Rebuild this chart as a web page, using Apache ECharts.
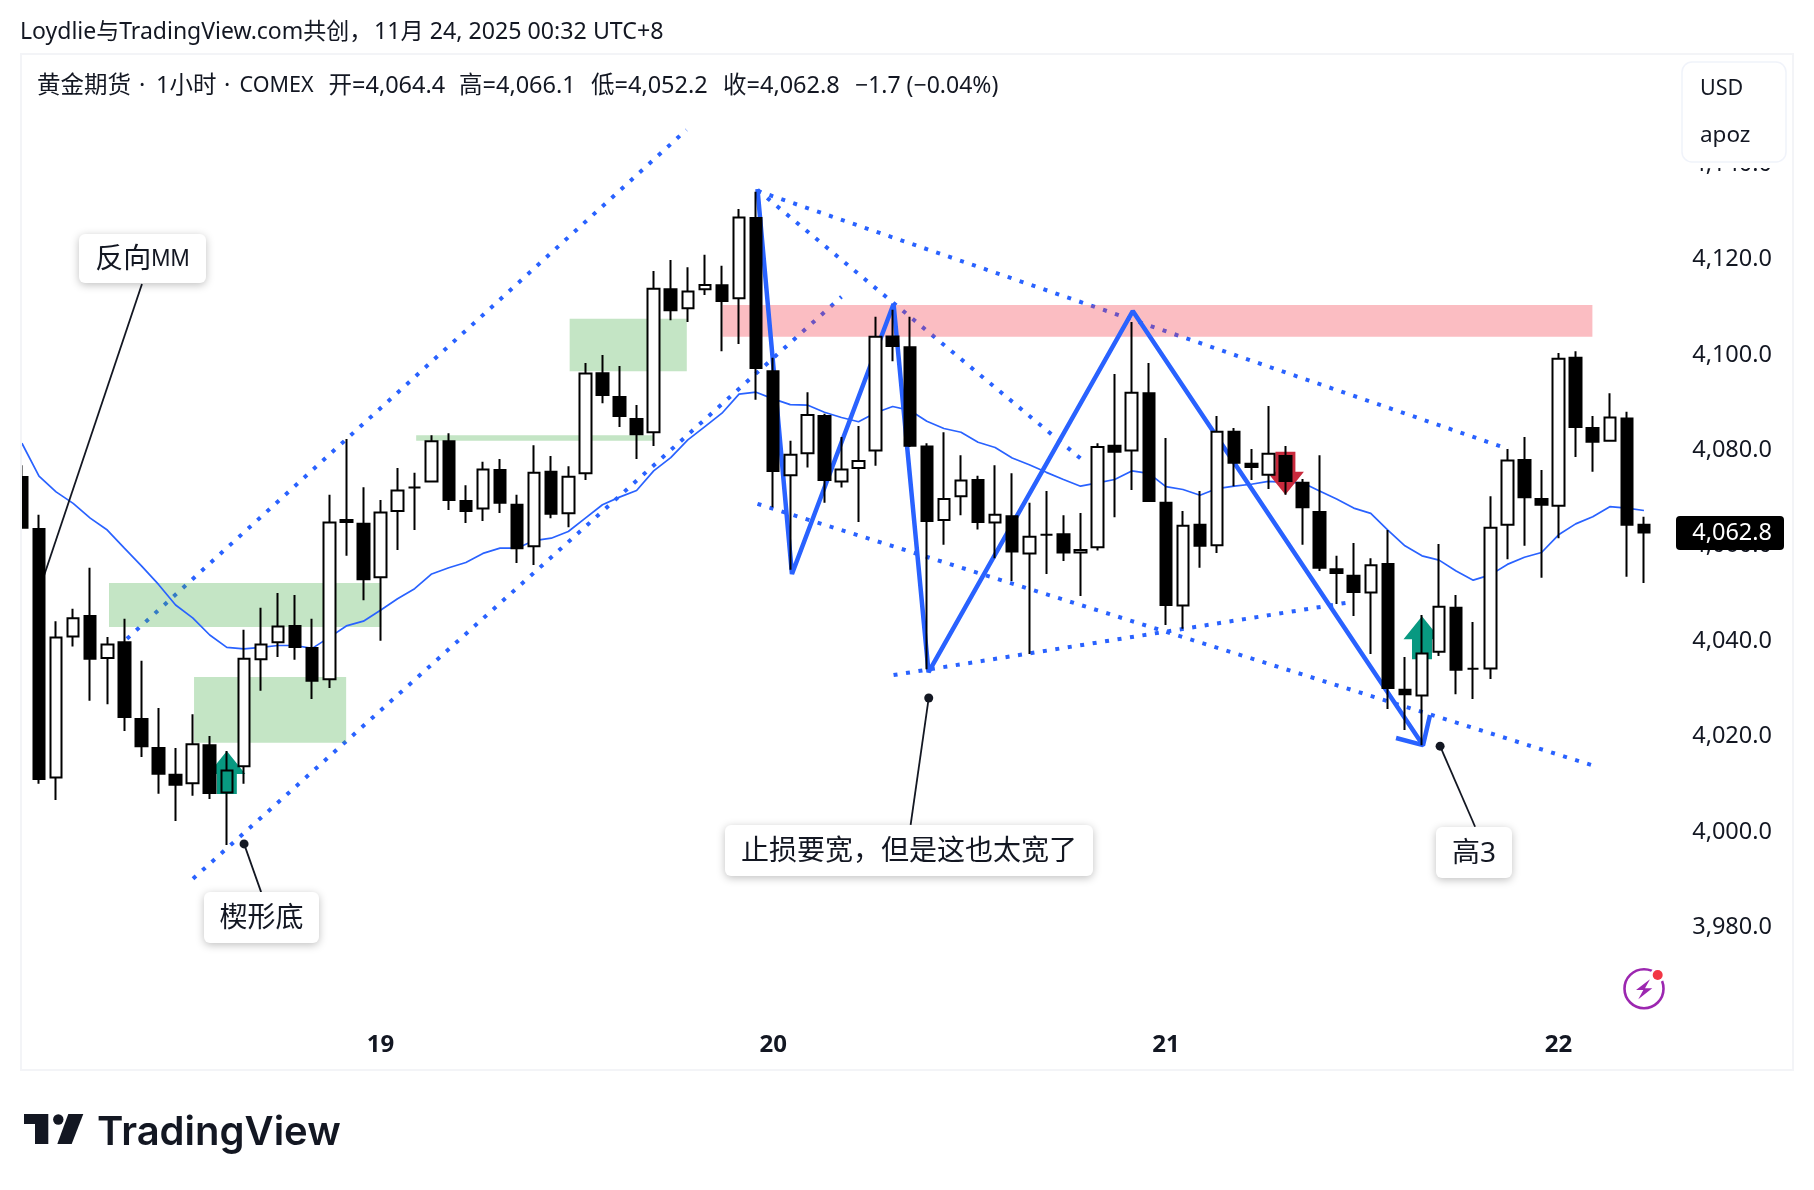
<!DOCTYPE html>
<html><head><meta charset="utf-8">
<style>html,body{margin:0;padding:0;background:#fff}#c{width:1814px;height:1190px}</style>
<script src="https://cdn.jsdelivr.net/npm/echarts@6/dist/echarts.min.js"></script>
</head><body><div id="c"></div>
<script>
// [open, close, low, high]
const candles = [
[4074.4,4063.8,4063.6,4076.9],[4063.5,4011.1,4010.1,4066.5],[4011.4,4040.8,4006.7,4044.2],[4041.0,4044.8,4038.9,4046.8],
[4045.3,4036.3,4027.5,4055.4],[4036.5,4039.3,4026.8,4040.9],[4039.8,4024.1,4021.2,4044.7],[4023.7,4018.0,4015.7,4035.9],
[4017.6,4012.2,4008.0,4026.0],[4012.0,4009.9,4002.3,4017.6],[4010.2,4018.4,4007.6,4024.7],[4018.2,4008.2,4006.9,4020.1],
[4008.3,4012.9,3997.3,4017.0],[4013.8,4036.3,4010.1,4042.4],[4036.2,4039.3,4029.6,4047.0],[4039.8,4043.1,4036.7,4050.1],
[4043.2,4038.8,4036.1,4049.7],[4038.6,4031.7,4027.9,4044.7],[4032.0,4064.9,4030.2,4070.7],[4065.4,4065.0,4057.9,4082.4],
[4064.6,4053.0,4048.6,4072.3],[4053.4,4067.0,4040.1,4069.6],[4067.3,4071.6,4059.1,4076.3],[4072.2,4072.2,4063.3,4075.3],
[4073.5,4081.9,4073.3,4083.2],[4081.9,4069.6,4067.5,4083.6],[4069.4,4067.3,4064.8,4072.7],[4067.8,4076.0,4065.2,4077.6],
[4075.9,4069.0,4066.9,4078.2],[4068.6,4059.5,4056.4,4070.7],[4059.9,4075.3,4056.0,4081.1],[4075.5,4066.7,4065.8,4078.8],
[4066.8,4074.5,4063.9,4076.7],[4075.2,4096.1,4073.8,4098.3],[4096.2,4091.6,4089.9,4100.0],[4091.2,4087.2,4084.9,4097.7],
[4086.6,4083.4,4078.2,4089.5],[4083.8,4113.9,4080.9,4117.6],[4113.8,4109.4,4107.3,4119.9],[4109.8,4113.3,4106.9,4118.4],
[4113.8,4114.7,4112.6,4121.0],[4114.6,4111.3,4100.8,4118.7],[4111.9,4128.8,4102.3,4130.6],[4128.7,4097.3,4090.6,4134.2],
[4096.6,4075.7,4068.1,4099.4],[4074.8,4079.1,4055.0,4082.0],[4079.4,4087.4,4076.4,4092.2],[4087.2,4073.8,4069.0,4087.7],
[4073.5,4076.0,4072.2,4082.8],[4076.3,4077.8,4065.0,4085.1],[4080.0,4103.8,4076.8,4108.0],[4103.9,4101.9,4098.7,4109.5],
[4101.6,4081.0,4080.7,4108.0],[4080.8,4065.2,4034.1,4081.5],[4065.4,4069.8,4060.2,4083.8],[4070.4,4073.7,4066.4,4079.0],
[4073.8,4065.0,4063.4,4074.7],[4064.9,4066.5,4057.4,4076.9],[4066.2,4058.8,4052.6,4075.2],[4058.4,4061.9,4037.3,4069.0],
[4062.3,4062.3,4054.1,4071.5],[4062.4,4058.6,4056.8,4066.4],[4058.6,4059.1,4049.5,4066.9],[4059.7,4080.7,4059.0,4081.5],
[4081.0,4079.7,4066.0,4096.0],[4080.0,4092.1,4071.7,4106.9],[4092.0,4069.4,4069.2,4098.3],[4069.0,4047.6,4043.4,4082.6],
[4047.5,4064.2,4042.6,4067.3],[4064.4,4060.0,4055.4,4071.5],[4060.1,4083.9,4058.5,4087.2],[4083.9,4077.4,4072.5,4084.7],
[4077.2,4076.5,4073.8,4080.3],[4074.9,4079.3,4071.9,4089.3],[4078.8,4073.6,4070.7,4080.9],[4073.2,4068.1,4060.2,4074.0],
[4067.1,4055.4,4054.7,4079.0],[4055.1,4054.3,4047.8,4057.9],[4053.7,4050.3,4045.3,4060.6],[4050.2,4055.9,4037.3,4057.4],
[4056.2,4030.2,4025.8,4063.3],[4029.8,4028.9,4021.4,4036.7],[4028.6,4037.4,4018.2,4045.5],[4037.8,4047.2,4036.9,4060.4],
[4047.0,4034.0,4028.9,4049.7],[4034.2,4034.2,4027.9,4044.0],[4034.3,4063.8,4032.1,4070.4],[4064.4,4077.9,4057.2,4080.3],
[4078.0,4070.2,4060.0,4082.8],[4069.8,4068.6,4053.3,4075.9],[4068.4,4099.2,4061.6,4100.4],[4099.4,4084.9,4078.6,4100.8],
[4084.7,4081.8,4075.5,4087.2],[4082.0,4086.9,4081.8,4092.0],[4086.7,4064.4,4053.5,4088.1],[4064.4,4062.8,4052.2,4066.1]
];
const maValues = [
4081.5,4074.6,4071.3,4068.9,4065.8,4063.3,4059.5,4055.8,4051.9,4047.6,4044.9,4041.3,
4038.7,4038.4,4038.7,4039.1,4039.1,4038.5,4040.8,4043.2,4044.2,4046.5,4048.9,4051.0,
4054.1,4055.4,4056.5,4058.4,4059.5,4059.5,4061.1,4061.6,4063.0,4065.8,4068.6,4070.2,
4071.6,4075.7,4078.5,4082.2,4085.0,4087.8,4091.8,4092.2,4090.8,4089.6,4089.5,4088.0,
4086.9,4086.0,4087.9,4089.2,4088.4,4086.1,4084.6,4083.8,4081.7,4080.6,4078.4,4077.0,
4075.4,4073.9,4072.5,4073.2,4073.9,4075.7,4075.2,4072.4,4071.8,4070.6,4072.0,4072.5,
4072.9,4073.5,4073.3,4073.2,4071.5,4069.8,4067.9,4066.8,4063.3,4060.0,4057.9,4057.0,
4054.7,4052.8,4053.9,4056.1,4057.6,4058.6,4062.3,4064.6,4066.1,4068.2,4067.9,4067.4
];
const dayLabels = {21:'19',44:'20',67:'21',90:'22'};
const slotCount = 104;
const categories = Array.from({length:slotCount},(_,i)=>dayLabels[i]||'');
const tealCandle = 12;

// drawings: [candle position, price]
const zigzag = [[43.08,4134.8],[45.10,4054.1],[51.05,4110.7],[53.10,4033.5],[65.06,4109.2],[82.06,4018.2]];
const zigzagHead = [[82.47,4024.5],[82.06,4018.2],[80.48,4019.7]];
const channelUpper = [[6.15,4040.5],[38.92,4147.2]];
const channelLower = [[10.02,3990.2],[48.0,4112.2]];
const wedgeTop = [[43.08,4134.4],[87.05,4080.3]];
const wedgeInner = [[43.08,4134.6],[62.31,4077.4]];
const wedgeBottom = [[43.08,4068.8],[92.15,4013.8]];
const wedgeRising = [[51.05,4032.9],[77.84,4048.2]];
// zones: [from, to, high, low]
const greenZones = [[5.10,21.04,4052.2,4043.0],[10.08,18.99,4032.5,4018.7],[23.09,36.99,4083.2,4082.0],[32.08,38.94,4107.6,4096.6]];
const pinkZones = [[41.03,91.98,4110.5,4103.8]];
const upArrows = [[12,4012.5],[82,4040.7]];
const downArrows = [[74,4075.2]];
const leaders = [
 [[7.03,4114.9],[1.17,4052.4]],
 [[13.01,3997.5],[14.01,3987.4]],
 [[53.11,4028.1],[52.05,4001.5]],
 [[83.06,4018.0],[85.11,4001.1]]
];
const leaderDots = [[13.01,3997.5],[53.11,4028.1],[83.06,4018.0]];

const titleParts = [['Loydlie与TradingView.com共创，',20,23],['11月 24, 2025 00:32 UTC+8',374,23.2]];
const legendParts = [['黄金期货',37,23.5],['·',139,23.5],['1小时',156,23.5],['·',224,23.5],['COMEX',239.5,21.5],['开=4,064.4',328.5,23.5],['高=4,066.1',459,23.5],['低=4,052.2',591,23.5],['收=4,062.8',723,23.5],['−1.7 (−0.04%)',855,23]];
const callouts = [
 {text:'{c|反向}{n|MM}',x:79,y:234,w:127,h:49},
 {text:'{c|楔形底}',x:204,y:892,w:115,h:51},
 {text:'{c|止损要宽，但是这也太宽了}',x:725,y:825,w:368,h:51},
 {text:'{c|高3}',x:1436,y:827,w:76,h:51}
];
const lastPriceText = '4,062.8';
const unitLines = [['USD',21.5],['apoz',22.5]];
const brandText = 'TradingView';

const FONT = '"Noto Sans","Noto Sans CJK SC",sans-serif';
const INK = '#131722', BLUE = '#2962ff';
const arrowUp = 'path://M18.5 0L37 23L28.5 23L28.5 43L8.5 43L8.5 23L0 23Z';
const arrowDown = 'path://M8.5 0L28.5 0L28.5 20L37 20L18.5 43L0 20L8.5 20Z';

const dotted = d => ({type:'line',xAxisIndex:1,data:d,showSymbol:false,symbol:'none',silent:true,z:2,
  lineStyle:{color:BLUE,width:4,type:[4,8.6],cap:'butt'}});
const solid = (d,w,c,z) => ({type:'line',xAxisIndex:1,data:d,showSymbol:false,symbol:'none',silent:true,z:z,
  lineStyle:{color:c,width:w}});
const zoneSeries = (d,fill) => ({type:'custom',xAxisIndex:1,data:d,z:3,silent:true,encode:{x:[0,1],y:[2,3]},
  renderItem:(p,api)=>{
    const a=api.coord([api.value(0),api.value(2)]),b=api.coord([api.value(1),api.value(3)]);
    return {type:'rect',shape:{x:a[0],y:a[1],width:b[0]-a[0],height:b[1]-a[1]},style:{fill:fill}};
  }});
const arrowSeries = (d,sym,c) => ({type:'scatter',xAxisIndex:1,data:d,symbol:sym,symbolSize:[37,43],itemStyle:{color:c,opacity:1},z:6,silent:true});

const gfx = [];
gfx.push({type:'rect',z:50,silent:true,shape:{x:0,y:44,width:20,height:1030},style:{fill:'#fff'}});
gfx.push({type:'rect',z:51,silent:true,shape:{x:21,y:54,width:1772,height:1016},style:{fill:'none',stroke:'#f3f4f7',lineWidth:2}});
titleParts.forEach(t=>gfx.push({type:'text',z:60,silent:true,x:t[1],y:32.5,style:{text:t[0],font:t[2]+'px '+FONT,fill:INK,textVerticalAlign:'middle'}}));
legendParts.forEach(t=>gfx.push({type:'text',z:60,silent:true,x:t[1],y:86,style:{text:t[0],font:t[2]+'px '+FONT,fill:INK,textVerticalAlign:'middle'}}));
// unit box
gfx.push({type:'rect',z:60,silent:true,shape:{x:1682,y:160,width:104,height:8},style:{fill:'#fff'}});
gfx.push({type:'rect',z:60,silent:true,shape:{x:1682,y:62,width:104,height:100,r:10},style:{fill:'#fff',stroke:'#f0f3fa',lineWidth:1.5}});
unitLines.forEach((t,i)=>gfx.push({type:'text',z:61,silent:true,x:1700,y:88.5+47*i,style:{text:t[0],font:t[1]+'px '+FONT,fill:INK,textVerticalAlign:'middle'}}));
// last price tag
gfx.push({type:'rect',z:60,silent:true,shape:{x:1676,y:516,width:108,height:34,r:4},style:{fill:'#000'}});
gfx.push({type:'text',z:61,silent:true,x:1772,y:533.5,style:{text:lastPriceText,font:'23.5px '+FONT,fill:'#fff',textAlign:'right',textVerticalAlign:'middle'}});
// callouts
callouts.forEach(c=>{
  gfx.push({type:'rect',z:60,silent:true,shape:{x:c.x,y:c.y,width:c.w,height:c.h,r:6},style:{fill:'#fff',shadowBlur:8,shadowColor:'rgba(0,0,0,0.25)',shadowOffsetY:2}});
  gfx.push({type:'text',z:61,silent:true,x:c.x+c.w/2,y:c.y+c.h/2+1.2,style:{text:c.text,textAlign:'center',textVerticalAlign:'middle',
    rich:{c:{fontFamily:FONT,fontSize:28,fill:INK,color:INK},n:{fontFamily:'"Liberation Sans",'+FONT,fontSize:23,fill:INK,color:INK}}}});
});
// brand mark
gfx.push({type:'polygon',z:60,silent:true,shape:{points:[[24,1114],[48.3,1114],[48.3,1144],[35,1144],[35,1124],[24,1124]]},style:{fill:INK}});
gfx.push({type:'circle',z:60,silent:true,shape:{cx:58.3,cy:1119.5,r:5.2},style:{fill:INK}});
gfx.push({type:'polygon',z:60,silent:true,shape:{points:[[68.3,1114],[83.3,1114],[71.7,1144],[57.3,1144]]},style:{fill:INK}});
gfx.push({type:'text',z:60,silent:true,x:97,y:1133,style:{text:brandText,font:'600 40px Inter,'+FONT,fill:INK,textVerticalAlign:'middle'}});
// bolt badge
gfx.push({type:'circle',z:60,silent:true,shape:{cx:1644,cy:988.7,r:19.5},style:{fill:'#fff',stroke:'#9c27b0',lineWidth:2.6}});
gfx.push({type:'circle',z:61,silent:true,shape:{cx:1657.7,cy:975,r:7.5},style:{fill:'#fff'}});
gfx.push({type:'circle',z:62,silent:true,shape:{cx:1657.7,cy:975,r:5},style:{fill:'#f23645'}});
gfx.push({type:'polygon',z:62,silent:true,shape:{points:[[1650,979.3],[1636,990],[1643.3,990],[1638.3,999.3],[1652.3,988.3],[1645,988.3]]},style:{fill:'#9c27b0'}});

const chart = echarts.init(document.getElementById('c'),null,{renderer:'canvas'});
chart.setOption({
  animation:false,
  backgroundColor:'#fff',
  grid:{left:13.39,top:68.8,width:1775.7,height:954,containLabel:false},
  xAxis:[
    {type:'category',data:categories,boundaryGap:true,axisLine:{show:false},axisTick:{show:false},splitLine:{show:false},
     axisLabel:{interval:0,hideOverlap:false,margin:10,color:INK,fontFamily:FONT,fontSize:24,fontWeight:'bold'}},
    {type:'value',show:false,min:-0.5,max:slotCount-0.5,splitLine:{show:false}}
  ],
  yAxis:{type:'value',position:'right',min:3960,max:4160,interval:20,scale:true,axisLine:{show:false},axisTick:{show:false},splitLine:{show:false},
    axisLabel:{inside:true,margin:17.1,showMinLabel:false,showMaxLabel:false,color:INK,fontFamily:FONT,fontSize:23.5,padding:[4,0,0,0],
      formatter:v=>v.toLocaleString('en-US',{minimumFractionDigits:1,maximumFractionDigits:1})}},
  graphic:{elements:gfx},
  series:[
    dotted(channelUpper),dotted(channelLower),dotted(wedgeTop),dotted(wedgeInner),dotted(wedgeBottom),dotted(wedgeRising),
    zoneSeries(greenZones,'rgba(76,175,80,0.33)'),
    zoneSeries(pinkZones,'rgba(242,54,69,0.33)'),
    {type:'line',xAxisIndex:0,data:maValues,showSymbol:false,symbol:'none',silent:true,z:4,lineStyle:{color:BLUE,width:1.7}},
    solid(zigzag,4.5,BLUE,5),solid(zigzagHead,4.5,BLUE,5),
    arrowSeries(upArrows,arrowUp,'#089981'),
    arrowSeries(downArrows,arrowDown,'#c92a3d'),
    ...leaders.map(l=>solid(l,1.8,INK,7)),
    {type:'scatter',xAxisIndex:1,data:leaderDots,symbol:'circle',symbolSize:9,itemStyle:{color:INK,opacity:1},z:7,silent:true},
    {type:'candlestick',xAxisIndex:0,z:10,silent:true,barWidth:12,
      data:candles.map((c,i)=>i===tealCandle?{value:c,itemStyle:{color:'#089981',color0:'#089981'}}:c),
      itemStyle:{color:'#ffffff',color0:'#000000',borderColor:'#000000',borderColor0:'#000000',borderWidth:2}}
  ]
});
</script></body></html>
